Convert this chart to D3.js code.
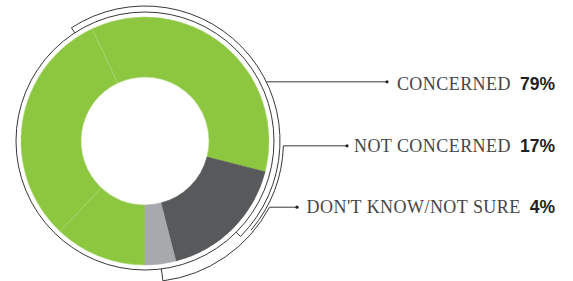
<!DOCTYPE html>
<html>
<head>
<meta charset="utf-8">
<script src="https://cdn.jsdelivr.net/npm/d3@7"></script>
<style>
  html, body { margin: 0; padding: 0; background: #fff; }
  svg { display: block; }
</style>
</head>
<body>
<div id="chart"></div>
<script>
// answer groups and their shares
const categories = ["CONCERNED", "NOT CONCERNED", "DON'T KNOW/NOT SURE"];
const values = [79, 17, 4];
// the green ring is split in three thin parts
const concernedParts = [12, 31, 36];
const colors = ["#8dc63f", "#58595b", "#a7a9ac"];

const width = 573, height = 281;
const cx = 145, cy = 141;
const rOuter = 124, rInner = 64;
const rBase = 129;

const svg = d3.select("#chart")
  .append("svg")
  .attr("width", width)
  .attr("height", height);

const slices = concernedParts.map(v => ({ cat: 0, value: v }))
  .concat(values.slice(1).map((v, i) => ({ cat: i + 1, value: v })));

const pie = d3.pie()
  .sort(null)
  .value(d => d.value)
  .startAngle(Math.PI)
  .endAngle(3 * Math.PI);

const arc = d3.arc().innerRadius(rInner).outerRadius(rOuter);

const g = svg.append("g").attr("transform", `translate(${cx},${cy})`);

g.selectAll("path.slice")
  .data(pie(slices))
  .enter()
  .append("path")
  .attr("class", "slice")
  .attr("d", arc)
  .attr("fill", d => colors[d.data.cat])
  .attr("stroke", d => d.data.cat === 0 ? "#a9d574" : colors[d.data.cat])
  .attr("stroke-width", 0.6);

// helpers for the thin bracket lines (angles clockwise from top)
const deg = a => a * Math.PI / 180;
const pt = (r, a) => [r * Math.sin(deg(a)), -r * Math.cos(deg(a))];
function arcLine(r, a0, a1) {
  const p = d3.path();
  const s = pt(r, a0);
  p.moveTo(s[0], s[1]);
  p.arc(0, 0, r, deg(a0) - Math.PI / 2, deg(a1) - Math.PI / 2, a1 < a0);
  return p.toString();
}
function tick(r0, r1, a) {
  const s = pt(r0, a), e = pt(r1, a);
  return `M${s[0]},${s[1]}L${e[0]},${e[1]}`;
}

const lines = g.append("g")
  .attr("fill", "none")
  .attr("stroke", "#231f20")
  .attr("stroke-width", 0.9);

lines.append("circle").attr("r", rBase);

// bracket for the green part
lines.append("path").attr("d", arcLine(135, -33, 135));
lines.append("path").attr("d", tick(rBase, 135, -33));
lines.append("path").attr("d", tick(rBase, 135, 135));
// bracket for the dark part
lines.append("path").attr("d", arcLine(138.5, 92, 130));
// bracket for the light part
lines.append("path").attr("d", arcLine(141, 118, 172.7));
lines.append("path").attr("d", tick(rBase, 141, 172.7));

// leaders and labels
const leaders = [
  { a: 64, r: 135, end: 387, base: 90 },
  { a: 92, r: 138.5, end: 347, base: 151.5 },
  { a: 118, r: 141, end: 297, base: 213 }
];

leaders.forEach((l, i) => {
  const p = pt(l.r, l.a);
  const y = cy + p[1];
  svg.append("line")
    .attr("x1", cx + p[0]).attr("y1", y)
    .attr("x2", l.end).attr("y2", y)
    .attr("stroke", "#231f20")
    .attr("stroke-width", 0.9);
  svg.append("circle")
    .attr("cx", l.end).attr("cy", y).attr("r", 1.6)
    .attr("fill", "#231f20");

  const t = svg.append("text")
    .attr("x", 555)
    .attr("y", l.base)
    .attr("text-anchor", "end")
    .attr("fill", "#454547");
  t.append("tspan")
    .attr("font-family", "'Liberation Serif', 'DejaVu Serif', serif")
    .attr("font-size", 18)
    .attr("letter-spacing", 0.45)
    .text(categories[i]);
  t.append("tspan")
    .attr("dx", 9)
    .attr("font-family", "'Liberation Sans', Arial, sans-serif")
    .attr("font-weight", "bold")
    .attr("font-size", 17.5)
    .attr("fill", "#231f20")
    .text(values[i] + "%");
});
</script>
</body>
</html>
